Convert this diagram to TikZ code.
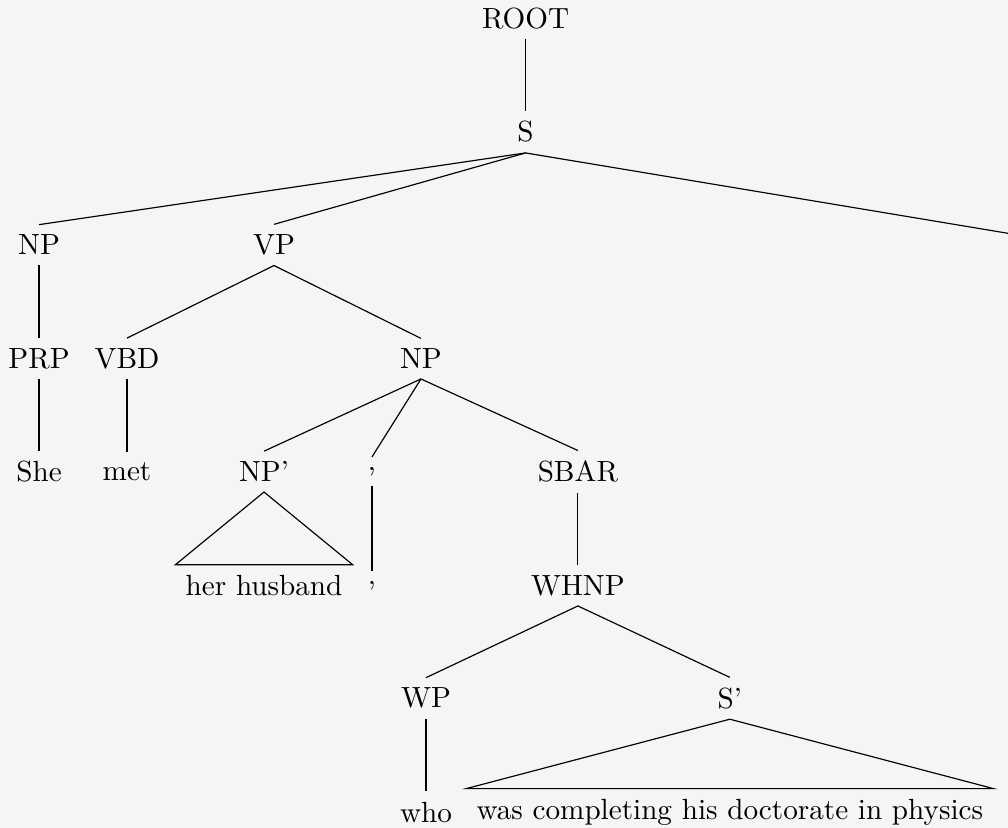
\documentclass[tikz,border=0pt]{standalone}
\usepackage{tikz}
\definecolor{fundo}{HTML}{F5F5F7}
\tikzset{
  cat/.style={inner sep=0.3333em},
  ramo/.style={draw, line width=0.4pt},
}

\begin{document}
\begin{tikzpicture}

  % Fundo e limites
  \fill[fundo] (0,0) rectangle (12.14,-9.97);
  \useasboundingbox (0,0) rectangle (12.14,-9.97);

  % Nivel 0 e 1
  \node[cat] (root) at (6.33,-0.22) {ROOT};
  \node[cat] (s) at (6.33,-1.59) {S};

  % Nivel 2
  \node[cat] (np) at (0.47,-2.95) {NP};
  \node[cat] (vp) at (3.30,-2.95) {VP};
  \coordinate (s_dir) at (12.14,-2.81);

  % Nivel 3
  \node[cat] (prp) at (0.47,-4.32) {PRP};
  \node[cat] (vbd) at (1.53,-4.32) {VBD};
  \node[cat] (npobj) at (5.07,-4.32) {NP};

  % Nivel 4
  \node[cat] (she) at (0.47,-5.68) {She};
  \node[cat] (met) at (1.53,-5.68) {met};
  \node[cat] (npx) at (3.18,-5.68) {NP'};
  \node[cat] (virg) at (4.48,-5.68) {,};
  \node[cat] (sbar) at (6.96,-5.68) {SBAR};

  % Nivel 5
  \node[cat] (husband) at (3.18,-7.05) {her husband};
  \node[cat] (virgw) at (4.48,-7.05) {,};
  \node[cat] (whnp) at (6.96,-7.05) {WHNP};

  % Nivel 6 e 7
  \node[cat] (wp) at (5.13,-8.41) {WP};
  \node[cat] (sx) at (8.79,-8.41) {S'};
  \node[cat] (who) at (5.13,-9.78) {who};
  \node[cat] (resto) at (8.79,-9.78) {was completing his doctorate in physics};

  % Ramos
  \draw[ramo] (root.south) -- (s.north);
  \draw[ramo] (s.south) -- (np.north);
  \draw[ramo] (s.south) -- (vp.north);
  \draw[ramo] (s.south) -- (s_dir);
  \draw[ramo] (np.south) -- (prp.north);
  \draw[ramo] (prp.south) -- (she.north);
  \draw[ramo] (vp.south) -- (vbd.north);
  \draw[ramo] (vp.south) -- (npobj.north);
  \draw[ramo] (vbd.south) -- (met.north);
  \draw[ramo] (npobj.south) -- (npx.north);
  \draw[ramo] (npobj.south) -- (virg.north);
  \draw[ramo] (npobj.south) -- (sbar.north);
  \draw[ramo] (virg.south) -- (virgw.north);
  \draw[ramo] (sbar.south) -- (whnp.north);
  \draw[ramo] (whnp.south) -- (wp.north);
  \draw[ramo] (whnp.south) -- (sx.north);
  \draw[ramo] (wp.south) -- (who.north);

  % Triangulos
  \draw[ramo] (npx.south) -- (husband.north west) -- (husband.north east) -- cycle;
  \draw[ramo] (sx.south) -- (resto.north west) -- (resto.north east) -- cycle;

\end{tikzpicture}
\end{document}
